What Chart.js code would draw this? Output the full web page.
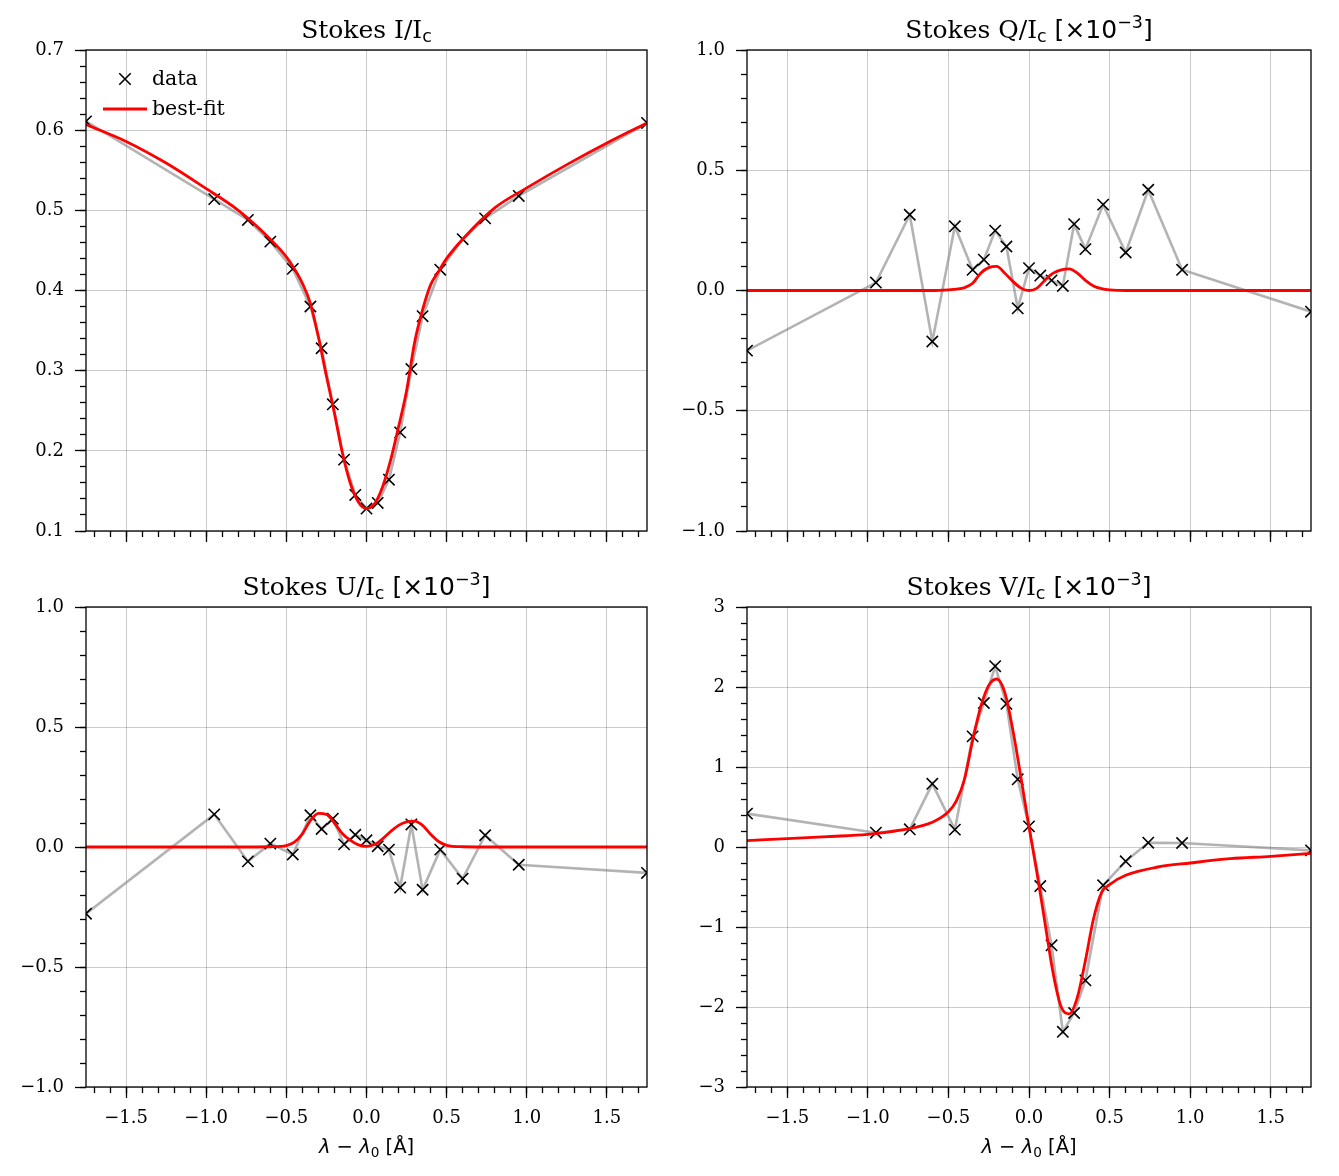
<!DOCTYPE html>
<html>
<head>
<meta charset="utf-8">
<script src="https://cdn.jsdelivr.net/npm/chart.js@4.4.0/dist/chart.umd.min.js"></script>
<style>
  html, body { margin: 0; padding: 0; background: #fff; }
  #fig { position: relative; width: 1339px; height: 1176px; }
  #fig canvas { position: absolute; left: 0; top: 0; }
</style>
</head>
<body>
<div id="fig">
  <canvas id="pI" width="1339" height="1176"></canvas>
  <canvas id="pQ" width="1339" height="1176"></canvas>
  <canvas id="pU" width="1339" height="1176"></canvas>
  <canvas id="pV" width="1339" height="1176"></canvas>
</div>
<script>
// WAVELENGTH SAMPLES [A from line centre]
const wavelengths = [-1.75, -0.95, -0.74, -0.60, -0.46, -0.35, -0.28, -0.21, -0.14, -0.07, 0.00,
                     0.07, 0.14, 0.21, 0.28, 0.35, 0.46, 0.60, 0.74, 0.95, 1.75];

// OBSERVED STOKES PROFILES (Q, U, V in units of 1e-3)
const dataI = [0.611, 0.514, 0.488, 0.461, 0.427, 0.380, 0.328, 0.258, 0.189, 0.145, 0.128,
               0.135, 0.164, 0.223, 0.302, 0.368, 0.426, 0.464, 0.490, 0.518, 0.609];
const dataQ = [-0.250, 0.033, 0.315, -0.212, 0.267, 0.086, 0.128, 0.249, 0.183, -0.074, 0.093,
               0.062, 0.042, 0.019, 0.276, 0.172, 0.357, 0.158, 0.419, 0.086, -0.088];
const dataU = [-0.278, 0.136, -0.060, 0.014, -0.031, 0.132, 0.075, 0.118, 0.011, 0.051, 0.028,
               0.003, -0.011, -0.169, 0.094, -0.178, -0.011, -0.132, 0.049, -0.074, -0.108];
const dataV = [0.417, 0.179, 0.221, 0.790, 0.217, 1.383, 1.800, 2.260, 1.790, 0.846, 0.258,
               -0.488, -1.229, -2.310, -2.075, -1.667, -0.479, -0.179, 0.054, 0.050, -0.042];

// BEST-FIT PROFILES
const fitWave = [-1.75, -1.5, -1.25, -1.0, -0.8, -0.6, -0.5, -0.45, -0.4, -0.35, -0.3, -0.25, -0.2,
                 -0.15, -0.1, -0.05, 0, 0.05, 0.1, 0.15, 0.2, 0.25, 0.3, 0.35, 0.4, 0.45, 0.5,
                 0.6, 0.8, 1.0, 1.25, 1.5, 1.75];
const fitI = [0.607, 0.586, 0.559, 0.527, 0.500, 0.464, 0.442, 0.427, 0.409, 0.384, 0.342, 0.293, 0.247,
              0.197, 0.159, 0.136, 0.128, 0.134, 0.155, 0.188, 0.230, 0.275, 0.335, 0.376, 0.407, 0.424, 0.440,
              0.464, 0.503, 0.528, 0.557, 0.584, 0.609];
const fitQ = [0, 0, 0, 0, 0, 0, 0.003, 0.006, 0.012, 0.030, 0.072, 0.095, 0.100,
              0.072, 0.038, 0.010, 0.000, 0.010, 0.044, 0.072, 0.086, 0.090, 0.072, 0.042, 0.019, 0.008, 0.003,
              0, 0, 0, 0, 0, 0];
const fitU = [0, 0, 0, 0, 0, 0.001, 0.006, 0.020, 0.055, 0.110, 0.140, 0.136, 0.100,
              0.055, 0.028, 0.009, 0.003, 0.010, 0.034, 0.064, 0.090, 0.105, 0.108, 0.090, 0.053, 0.023, 0.007,
              0.001, 0, 0, 0, 0, 0];
const fitV = [0.080, 0.104, 0.130, 0.158, 0.210, 0.310, 0.440, 0.580, 0.850, 1.330, 1.750, 2.020, 2.100,
              1.930, 1.460, 0.870, 0.250, -0.330, -0.960, -1.580, -2.000, -2.085, -1.880, -1.420, -0.900, -0.570, -0.470,
              -0.354, -0.250, -0.200, -0.146, -0.117, -0.080];

// TICKS
const xTicks = [-1.5, -1.0, -0.5, 0.0, 0.5, 1.0, 1.5];
const yTicksI = [0.1, 0.2, 0.3, 0.4, 0.5, 0.6, 0.7];
const yTicksQU = [-1.0, -0.5, 0.0, 0.5, 1.0];
const yTicksV = [-3, -2, -1, 0, 1, 2, 3];

const W = 1339, H = 1176;
const SERIF = '"DejaVu Serif"';
const SANS = '"DejaVu Sans"';
const GRID = 'rgba(0,0,0,0.2)';
const TICK_FONT = { family: SERIF, size: 18 };
const TITLE_SIZE = 25;
const LEGEND_SIZE = 20.5;
const XLABEL_SIZE = 19.5;

Chart.defaults.font.family = SERIF;

function fmt(v, d) {
    return (v < 0 ? '\u2212' : '') + Math.abs(v).toFixed(d);
}

function minorTicks(min, max, step) {
    const out = [];
    for (let k = Math.ceil(min / step - 1e-9); k * step <= max + 1e-9; k++) {
        out.push(+(k * step).toFixed(6));
    }
    return out;
}

function titleParts(letter, scaled) {
    const parts = [
        { text: 'Stokes ' + letter + '/I', font: TITLE_SIZE + 'px ' + SERIF },
        { text: 'c', font: (TITLE_SIZE * 0.7) + 'px ' + SANS, dy: 4.5 }
    ];
    if (scaled) {
        parts.push({ text: ' ', font: TITLE_SIZE + 'px ' + SERIF });
        parts.push({ text: '[\u00d710', font: TITLE_SIZE + 'px ' + SANS });
        parts.push({ text: '\u22123', font: (TITLE_SIZE * 0.7) + 'px ' + SANS, dy: -10 });
        parts.push({ text: ']', font: TITLE_SIZE + 'px ' + SANS });
    }
    return parts;
}

const xLabelParts = [
    { text: '\u03bb', font: 'italic ' + XLABEL_SIZE + 'px ' + SANS },
    { text: ' \u2212 ', font: XLABEL_SIZE + 'px ' + SANS },
    { text: '\u03bb', font: 'italic ' + XLABEL_SIZE + 'px ' + SANS },
    { text: '0', font: (XLABEL_SIZE * 0.7) + 'px ' + SANS, dy: 3.5 },
    { text: ' [\u00c5]', font: XLABEL_SIZE + 'px ' + SANS }
];

function drawRich(ctx, parts, cx, baseline) {
    let total = 0;
    parts.forEach(p => { ctx.font = p.font; p.w = ctx.measureText(p.text).width; total += p.w; });
    let x = cx - total / 2;
    ctx.fillStyle = '#000';
    ctx.textAlign = 'left';
    ctx.textBaseline = 'alphabetic';
    parts.forEach(p => { ctx.font = p.font; ctx.fillText(p.text, x, baseline + (p.dy || 0)); x += p.w; });
}

// frame, title, legend and x label
const decorPlugin = {
    id: 'decor',
    afterDatasetsDraw(chart) {
        const { ctx, chartArea: a } = chart;
        ctx.save();
        ctx.strokeStyle = '#000';
        ctx.lineWidth = 1.3;
        ctx.strokeRect(a.left, a.top, a.right - a.left, a.bottom - a.top);
        ctx.restore();
    },
    afterDraw(chart) {
        const { ctx, chartArea: a } = chart;
        const p = chart.config.options.panel;
        ctx.save();
        drawRich(ctx, p.title, (a.left + a.right) / 2, a.top - 12.5);
        if (p.xLabel) {
            drawRich(ctx, xLabelParts, (a.left + a.right) / 2, a.bottom + 66);
        }
        if (p.legend) {
            const lx = a.left + 39, ly1 = a.top + 29, ly2 = a.top + 59;
            ctx.strokeStyle = '#000';
            ctx.lineWidth = 1.6;
            ctx.beginPath();
            ctx.moveTo(lx - 5.7, ly1 - 5.7); ctx.lineTo(lx + 5.7, ly1 + 5.7);
            ctx.moveTo(lx - 5.7, ly1 + 5.7); ctx.lineTo(lx + 5.7, ly1 - 5.7);
            ctx.stroke();
            ctx.strokeStyle = '#ff0000';
            ctx.lineWidth = 2.8;
            ctx.beginPath();
            ctx.moveTo(a.left + 17, ly2); ctx.lineTo(a.left + 61, ly2);
            ctx.stroke();
            ctx.fillStyle = '#000';
            ctx.font = LEGEND_SIZE + 'px ' + SERIF;
            ctx.textAlign = 'left';
            ctx.textBaseline = 'middle';
            ctx.fillText('data', a.left + 66, ly1 + 1);
            ctx.fillText('best-fit', a.left + 66, ly2 + 1);
        }
        ctx.restore();
    }
};

const panels = [
    { id: 'pI', box: [86, 50, 647, 531], title: titleParts('I', false), obs: dataI, fit: fitI,
      yMin: 0.1, yMax: 0.7, yTicks: yTicksI, yMinor: 0.02, yDigits: 1, xLabel: false, legend: true },
    { id: 'pQ', box: [747, 50, 1311, 531], title: titleParts('Q', true), obs: dataQ, fit: fitQ,
      yMin: -1, yMax: 1, yTicks: yTicksQU, yMinor: 0.1, yDigits: 1, xLabel: false, legend: false },
    { id: 'pU', box: [86, 607, 647, 1087], title: titleParts('U', true), obs: dataU, fit: fitU,
      yMin: -1, yMax: 1, yTicks: yTicksQU, yMinor: 0.1, yDigits: 1, xLabel: true, legend: false },
    { id: 'pV', box: [747, 607, 1311, 1087], title: titleParts('V', true), obs: dataV, fit: fitV,
      yMin: -3, yMax: 3, yTicks: yTicksV, yMinor: 0.2, yDigits: 0, xLabel: true, legend: false }
];

panels.forEach(p => {
    const [l, t, r, b] = p.box;
    new Chart(document.getElementById(p.id), {
        type: 'line',
        data: {
            datasets: [{
                data: wavelengths.map((x, i) => ({ x: x, y: p.obs[i] })),
                xAxisID: 'x', yAxisID: 'y',
                borderColor: 'rgba(128,128,128,0.6)',
                borderWidth: 2.6,
                pointStyle: 'crossRot',
                pointRadius: 8,
                pointBorderColor: '#000',
                pointBorderWidth: 1.6,
                pointBackgroundColor: 'rgba(0,0,0,0)',
                tension: 0,
                clip: 0,
                order: 1
            }, {
                data: fitWave.map((x, i) => ({ x: x, y: p.fit[i] })),
                xAxisID: 'x', yAxisID: 'y',
                borderColor: '#ff0000',
                borderWidth: 2.8,
                pointRadius: 0,
                cubicInterpolationMode: 'monotone',
                clip: 0,
                order: 0
            }]
        },
        options: {
            panel: p,
            responsive: false,
            animation: false,
            events: [],
            // the axes themselves fill the margins, so label clipping keeps the text
            layout: { padding: { left: 0, top: t, right: W - r, bottom: 0 } },
            plugins: { legend: { display: false }, tooltip: { enabled: false } },
            scales: {
                x: {
                    type: 'linear', position: 'bottom', min: -1.75, max: 1.75, weight: 1,
                    afterFit: s => { s.height = H - b; },
                    afterBuildTicks: s => { s.ticks = xTicks.map(v => ({ value: v })); },
                    grid: { color: GRID, lineWidth: 1, tickLength: 11, tickColor: '#000', tickWidth: 1.3 },
                    border: { display: false },
                    ticks: { display: p.xLabel, autoSkip: false, maxRotation: 0, padding: 10,
                             color: '#000', font: TICK_FONT, callback: v => fmt(v, 1) }
                },
                xm: {
                    type: 'linear', position: 'bottom', min: -1.75, max: 1.75, weight: 0,
                    afterFit: s => { s.height = 0; },
                    afterBuildTicks: s => { s.ticks = minorTicks(-1.75, 1.75, 0.1).map(v => ({ value: v })); },
                    grid: { drawOnChartArea: false, tickLength: 6, tickColor: '#000', tickWidth: 1.3 },
                    border: { display: false },
                    ticks: { display: false }
                },
                y: {
                    type: 'linear', position: 'left', min: p.yMin, max: p.yMax, weight: 1,
                    afterFit: s => { s.width = l; },
                    afterBuildTicks: s => { s.ticks = p.yTicks.map(v => ({ value: v })); },
                    grid: { color: GRID, lineWidth: 1, tickLength: 11, tickColor: '#000', tickWidth: 1.3 },
                    border: { display: false },
                    ticks: { autoSkip: false, padding: 11, color: '#000', font: TICK_FONT,
                             callback: v => fmt(v, p.yDigits) }
                },
                ym: {
                    type: 'linear', position: 'left', min: p.yMin, max: p.yMax, weight: 0,
                    afterFit: s => { s.width = 0; },
                    afterBuildTicks: s => { s.ticks = minorTicks(p.yMin, p.yMax, p.yMinor).map(v => ({ value: v })); },
                    grid: { drawOnChartArea: false, tickLength: 6, tickColor: '#000', tickWidth: 1.3 },
                    border: { display: false },
                    ticks: { display: false }
                }
            }
        },
        plugins: [decorPlugin]
    });
});
</script>
</body>
</html>
